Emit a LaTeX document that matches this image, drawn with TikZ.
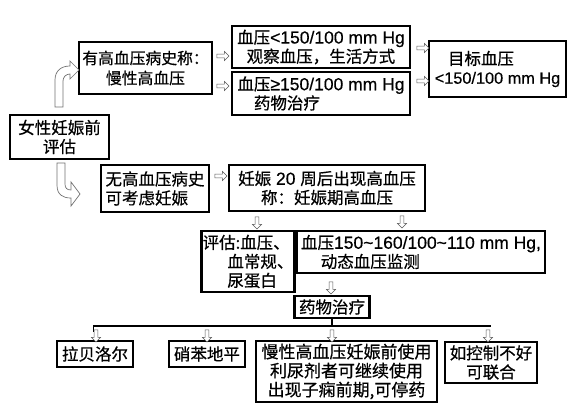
\documentclass[tikz,border=0pt]{standalone}
\usepackage{fontspec}
\setmainfont{Noto Sans CJK SC}[FakeBold=0.6]
\newfontfamily\latin{Liberation Sans}[FakeBold=0.4]
\newcommand{\lt}[2][17.5]{{\latin\fontsize{#1}{19}\selectfont #2}}
\usetikzlibrary{shapes.arrows}
\tikzset{
  box/.style={draw, line width=2.4pt, inner sep=1pt, align=center,
    font=\fontsize{16.5}{19}\selectfont},
  sarrow/.style={single arrow, draw=black!65, fill=white, line width=0.5pt,
    minimum height=12pt, minimum width=9pt, single arrow head extend=2.3pt, inner sep=1.4pt},
  darrow/.style={sarrow, shape border rotate=270},
  bigarrow/.style={draw=black!55, fill=white, line width=0.7pt},
  bus/.style={line width=1.5pt}
}
\begin{document}
\begin{tikzpicture}[x=1pt,y=-1pt]
\useasboundingbox[fill=white] (0,0) rectangle (572,406);
\node[box, minimum width=99, minimum height=44] (pre) at (59.5,137) {女性妊娠前\\评估};
\node[box, minimum width=133, minimum height=52, font=\fontsize{15.8}{20}\selectfont] (hist) at (145.5,68) {有高血压病史称：\\慢性高血压};
\node[box, minimum width=178, minimum height=42] (low) at (321,47) {血压\lt{<150/100 mm Hg}\\观察血压，生活方式};
\node[box, minimum width=178, minimum height=43, align=left] (high) at (321,93.5) {血压\lt{≥150/100 mm Hg}\\\hspace{1em}药物治疗};
\node[box, minimum width=137, minimum height=56, align=left] (goal) at (497.5,69) {\hspace{0.8em}目标血压\\\lt[16.3]{<150/100 mm Hg}};
\node[box, minimum width=108, minimum height=47, align=left] (nohist) at (155,188.5) {无高血压病史\\可考虑妊娠};
\node[box, minimum width=196, minimum height=46] (gest) at (327,188) {妊娠\lt{ 20 }周后出现高血压\\称：妊娠期高血压};
\node[box, minimum width=90, minimum height=61, align=left] (check) at (248,261.5) {评估:血压、\\\hspace{1.5em}血常规、\\\hspace{1.5em}尿蛋白};
\node[box, minimum width=248, minimum height=42, align=left] (bp) at (421,252) {血压\lt{150\textasciitilde160/100\textasciitilde110 mm Hg,}\\\hspace{1.2em}动态血压监测};
\node[box, minimum width=75, minimum height=22] (drug) at (332,307) {药物治疗};
\node[box, minimum width=76, minimum height=26] (lab) at (95,354) {拉贝洛尔};
\node[box, minimum width=76, minimum height=26] (nif) at (207,354) {硝苯地平};
\node[box, minimum width=181, minimum height=61, font=\fontsize{17}{19}\selectfont] (diur) at (346.5,371.5) {慢性高血压妊娠前使用\\利尿剂者可继续使用\\出现子痫前期,可停药};
\node[box, minimum width=92, minimum height=41] (comb) at (491,362.5) {如控制不好\\可联合};
\node[sarrow] (a1) at (222,56) {};
\node[sarrow] (a2) at (222,86) {};
\node[sarrow] (a3) at (422,48) {};
\node[sarrow] (a4) at (422,81) {};
\node[sarrow] (a5) at (220,176) {};
\node[darrow] (a6) at (257,222) {};
\node[darrow] (a7) at (402,221) {};
\node[darrow] (a8) at (331,287) {};
\coordinate (busl) at (93,326);
\coordinate (busr) at (491,326);
\draw[bus] (busl) -- (busr);
\draw[bus] (drug.south) -- (drug.south |- busl);
\draw[line width=1pt] (busl) -- ++(0,6);
\foreach \x/\n in {96/b1,207/b2,332/b3,488/b4}
  \node[darrow] (\n) at (\x,335) {};
\draw[bigarrow] (55,107) -- (55,80) .. controls (55,71) and (61,66) .. (70,66)
  -- (70,61) -- (79,70) -- (70,79) -- (70,74) .. controls (66,74) and (63,77) .. (63,81)
  -- (63,107) -- cycle;
\draw[bigarrow] (57,163) -- (57,185) .. controls (57,195) and (63,198) .. (71,198)
  -- (71,206) -- (80,194) -- (71,182) -- (71,190) .. controls (67,190) and (65,188) .. (65,184)
  -- (65,163) -- cycle;
\end{tikzpicture}
\end{document}
